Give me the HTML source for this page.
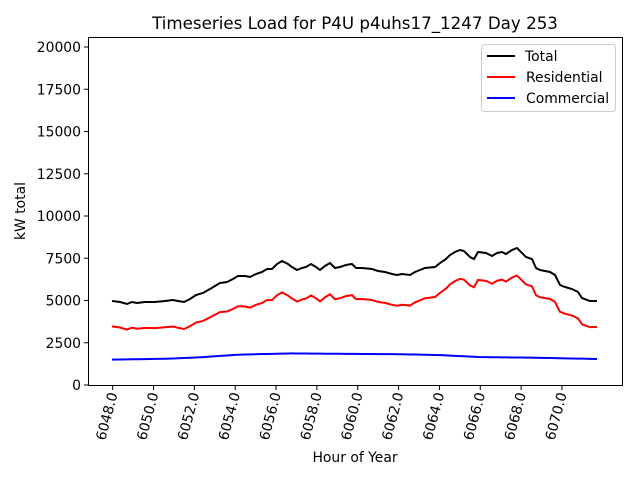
<!DOCTYPE html>
<html><head><meta charset="utf-8"><style>
body{margin:0;background:#fff}
text{font-family:"DejaVu Sans","Liberation Sans",sans-serif;fill:#000}
</style></head><body>
<svg id="s" width="640" height="480" viewBox="0 0 640 480" xmlns="http://www.w3.org/2000/svg">
<rect width="640" height="480" fill="#fff"/>
<text x="355" y="29" font-size="16.7" text-anchor="middle">Timeseries Load for P4U p4uhs17_1247  Day 253</text>
<g id="g"></g>
<rect x="88.5" y="37.5" width="534" height="348" fill="none" stroke="#000" stroke-width="1"/>
<text transform="translate(25,211) rotate(-90)" font-size="13.9" text-anchor="middle">kW total</text>
<text x="355" y="462" font-size="13.9" text-anchor="middle">Hour of Year</text>
<rect x="481.5" y="44.5" width="134" height="67" rx="3" fill="#fff" stroke="#ccc"/>
<line x1="487" y1="56" x2="515" y2="56" stroke="#000" stroke-width="2"/>
<line x1="487" y1="77" x2="515" y2="77" stroke="#f00" stroke-width="2"/>
<line x1="487" y1="98" x2="515" y2="98" stroke="#00f" stroke-width="2"/>
<text x="525" y="61" font-size="13.9">Total</text>
<text x="526" y="82" font-size="13.9">Residential</text>
<text x="526" y="103" font-size="13.9">Commercial</text>
</svg>
<script>
var g=document.getElementById('g'),h='';
var yl=[0,2500,5000,7500,10000,12500,15000,17500,20000];
yl.forEach(function(v){var y=385-v*0.0169;h+='<line x1="84" x2="88.5" y1="'+y+'" y2="'+y+'" stroke="#000"/><text x="81" y="'+(y+5)+'" font-size="13.9" text-anchor="end">'+v+'</text>';});
for(var k=0;k<12;k++){var x=112.7+k*2*20.42;h+='<line x1="'+x+'" x2="'+x+'" y1="385.5" y2="390" stroke="#000"/><text transform="translate('+(x+5)+',394) rotate(-75)" font-size="13.9" text-anchor="end">'+(6048+2*k)+'.0</text>';}
var T=[[112,301],[120,302],[127,304],[132,302],[137,303],[145,302],[155,302],[165,301],[173,300],[178,301],[184,302],[190,299],[196,295],[203,293],[210,289],[215,286],[220,283],[227,282],[233,279],[238,276],[245,276],[250,277],[256,274],[262,272],[267,269],[272,269],[277,264],[282,261],[288,264],[292,267],[297,270],[302,268],[306,267],[311,264],[316,267],[320,270],[325,266],[330,263],[335,268],[340,267],[346,265],[352,264],[356,268],[362,268],[372,269],[378,271],[385,272],[392,274],[397,275],[402,274],[410,275],[415,272],[420,270],[425,268],[435,267],[440,263],[446,259],[450,255],[455,252],[460,250],[464,251],[470,257],[474,259],[478,252],[486,253],[492,256],[497,253],[502,252],[506,254],[512,250],[517,248],[522,253],[526,257],[532,259],[536,268],[540,270],[550,272],[555,275],[560,285],[565,287],[572,289],[578,292],[582,298],[590,301],[597,301]];
function cv(v){return 385-v*0.0169;}
function com(x){var pts=[[112,1500],[170,1560],[200,1640],[240,1800],[290,1870],[330,1850],[400,1820],[440,1770],[480,1650],[530,1620],[597,1540]];for(var i=1;i<pts.length;i++){if(x<=pts[i][0]){var a=pts[i-1],b=pts[i],t=(x-a[0])/(b[0]-a[0]);return a[1]+t*(b[1]-a[1]);}}return 1540;}
var pt='',pr='',pc='';
T.forEach(function(p){var c=com(p[0]);var cy=cv(c);pt+=p[0]+','+p[1]+' ';pr+=p[0]+','+(p[1]+(385-cy))+' ';pc+=p[0]+','+cy+' ';});
h+='<polyline points="'+pt+'" fill="none" stroke="#000" stroke-width="2"/>';
h+='<polyline points="'+pr+'" fill="none" stroke="#f00" stroke-width="2"/>';
h+='<polyline points="'+pc+'" fill="none" stroke="#00f" stroke-width="2"/>';
g.innerHTML=h;
</script>
</body></html>
